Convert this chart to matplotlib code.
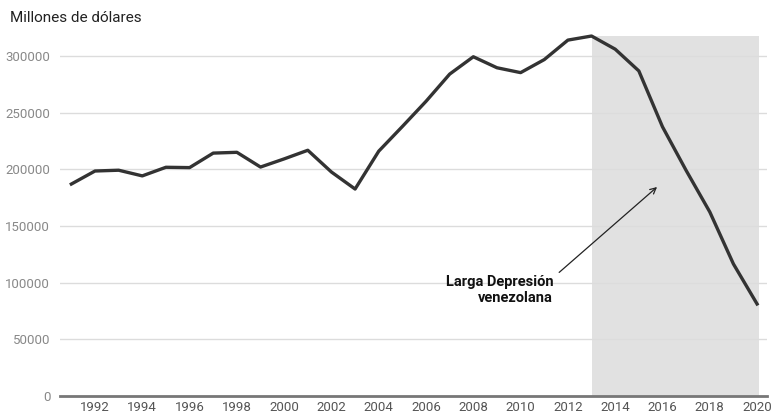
import matplotlib.pyplot as plt

years = list(range(1991, 2021))
gdp = [187000, 198500, 199200, 194200, 201800, 201500, 214300, 215000, 202000, 209200,
       216800, 197600, 182600, 216000, 237800, 260000, 284000, 299300, 289600, 285300,
       296800, 314000, 317600, 306000, 286800, 237500, 199000, 162400, 116500, 81200]
crisis_start, crisis_end = 2013, 2020
yticks = [0, 50000, 100000, 150000, 200000, 250000, 300000]
xticks = list(range(1992, 2021, 2))

plt.rcParams['font.family'] = ['Roboto', 'DejaVu Sans']

fig = plt.figure(figsize=(7.72, 4.13), dpi=100)
ax = fig.add_axes([60 / 772, 17 / 413, 707 / 772, (396 - 33.3) / 413])

ax.fill_between([crisis_start, crisis_end + 0.08], 0, max(gdp), color='#e1e1e1', lw=0, zorder=1)
ax.plot(years, gdp, color='#333333', lw=2.4, zorder=3)

ax.set_xlim(1990.52, 2020.42)
ax.set_ylim(0, 320000)
ax.set_yticks(yticks)
ax.set_xticks(xticks)
ax.grid(axis='y', color='#dcdcdc', lw=1, zorder=0)
ax.tick_params(axis='y', length=0, pad=7, labelsize=9.5, labelcolor='#888888')
ax.tick_params(axis='x', length=0, pad=3.5, labelsize=9.5, labelcolor='#555555')
for s in ['top', 'right', 'left']:
    ax.spines[s].set_visible(False)
ax.spines['bottom'].set_color('#777777')
ax.spines['bottom'].set_linewidth(2)
ax.spines['bottom'].set_zorder(4)

ax.annotate('Larga Depresión\nvenezolana', xy=(2015.77, 184400), xytext=(2011.38, 93500),
            ha='right', va='center', fontsize=10.5, fontweight='bold', color='#111111',
            multialignment='right', linespacing=1.15,
            arrowprops=dict(arrowstyle='->', color='#222222', lw=0.9, shrinkA=3, shrinkB=0,
                            relpos=(1.0, 0.92)))

fig.text(10 / 772, 1 - 18.5 / 413, 'Millones de dólares', fontsize=11, color='#222222',
         va='center', ha='left')

fig.savefig('out.png', dpi=100)
